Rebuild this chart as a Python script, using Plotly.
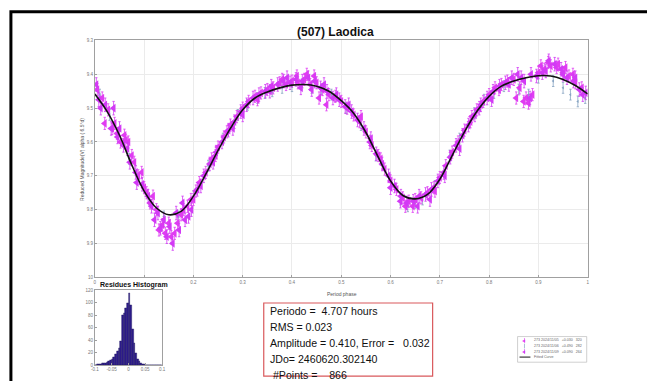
import plotly.graph_objects as go

W, H = 647, 381


def px(x):
    return x / W


def py(y):
    return 1 - y / H


# ---------------- data ----------------
TITLE = "(507) Laodica"

# fitted Fourier curve, reduced magnitude against rotational phase
FIT_PHASE = [0.000, 0.025, 0.050, 0.075, 0.100, 0.125, 0.150, 0.175, 0.200, 0.225,
             0.250, 0.275, 0.300, 0.325, 0.350, 0.375, 0.400, 0.425, 0.450, 0.475,
             0.500, 0.525, 0.550, 0.575, 0.600, 0.625, 0.650, 0.675, 0.700, 0.725,
             0.750, 0.775, 0.800, 0.825, 0.850, 0.875, 0.900, 0.925, 0.950, 0.975, 1.000]
FIT_MAG = [9.458, 9.510, 9.580, 9.668, 9.745, 9.795, 9.815, 9.805, 9.760, 9.695,
           9.625, 9.560, 9.505, 9.470, 9.452, 9.440, 9.432, 9.430, 9.435, 9.450,
           9.478, 9.515, 9.572, 9.645, 9.715, 9.758, 9.768, 9.755, 9.710, 9.640,
           9.570, 9.510, 9.465, 9.435, 9.420, 9.410, 9.404, 9.405, 9.415, 9.433, 9.458]

# session 1: 2024/11/05
S1_LABEL = "273 2024/11/05   +0.030   320"
S1_PHASE = [0.005, 0.015, 0.027, 0.040, 0.052, 0.063, 0.075, 0.088, 0.100, 0.112,
            0.125, 0.137, 0.150, 0.162, 0.175, 0.188, 0.200, 0.212, 0.225, 0.237,
            0.250, 0.262, 0.275, 0.288, 0.300, 0.312, 0.325, 0.337, 0.350, 0.362,
            0.375, 0.388, 0.400, 0.412, 0.425, 0.437, 0.450, 0.462, 0.475, 0.488,
            0.500, 0.512, 0.525, 0.537, 0.550, 0.562, 0.575, 0.588, 0.600, 0.612,
            0.625, 0.637, 0.650, 0.662, 0.675, 0.688, 0.700, 0.712, 0.725, 0.737,
            0.750, 0.762, 0.775, 0.788, 0.800, 0.812, 0.825, 0.837, 0.850, 0.862,
            0.875, 0.888, 0.900, 0.912, 0.925, 0.937, 0.950, 0.962, 0.975, 0.988,
            0.020, 0.035, 0.045, 0.060, 0.068, 0.080, 0.095, 0.105, 0.118, 0.130,
            0.143, 0.155, 0.168, 0.180, 0.195, 0.205, 0.245, 0.268, 0.330, 0.380,
            0.410, 0.430, 0.445, 0.455, 0.470, 0.540, 0.580, 0.630, 0.645, 0.690,
            0.765, 0.820, 0.855, 0.870, 0.880, 0.905, 0.920, 0.940, 0.955, 0.970]
S1_MAG = [9.445, 9.470, 9.505, 9.545, 9.600, 9.595, 9.640, 9.700, 9.735, 9.780,
          9.800, 9.845, 9.840, 9.870, 9.815, 9.790, 9.770, 9.720, 9.690, 9.650,
          9.615, 9.585, 9.550, 9.525, 9.500, 9.480, 9.465, 9.455, 9.445, 9.440,
          9.425, 9.430, 9.420, 9.425, 9.415, 9.430, 9.425, 9.445, 9.460, 9.465,
          9.480, 9.500, 9.520, 9.540, 9.570, 9.610, 9.640, 9.680, 9.715, 9.740,
          9.765, 9.775, 9.770, 9.765, 9.750, 9.735, 9.705, 9.670, 9.630, 9.600,
          9.565, 9.540, 9.505, 9.480, 9.460, 9.440, 9.430, 9.420, 9.415, 9.440,
          9.470, 9.460, 9.395, 9.385, 9.375, 9.380, 9.395, 9.405, 9.425, 9.440,
          9.545, 9.560, 9.575, 9.580, 9.600, 9.660, 9.690, 9.750, 9.760, 9.860,
          9.870, 9.880, 9.840, 9.800, 9.770, 9.745, 9.640, 9.570, 9.475, 9.415,
          9.405, 9.400, 9.405, 9.470, 9.490, 9.525, 9.650, 9.790, 9.790, 9.745,
          9.525, 9.445, 9.470, 9.480, 9.485, 9.375, 9.365, 9.370, 9.380, 9.400]
S1_ERR = 0.018

# session 2: 2024/11/06
S2_LABEL = "273 2024/11/06   +0.490   282"
S2_PHASE = [0.010, 0.030, 0.070, 0.110, 0.140, 0.170, 0.200, 0.230, 0.260, 0.290,
            0.310, 0.330, 0.345, 0.360, 0.380, 0.400, 0.420, 0.440, 0.460, 0.480,
            0.510, 0.540, 0.570, 0.600, 0.620, 0.635, 0.650, 0.665, 0.690, 0.720,
            0.740, 0.770, 0.790, 0.810, 0.830, 0.860, 0.880, 0.900, 0.930, 0.950,
            0.965, 0.980, 0.995]
S2_MAG = [9.460, 9.520, 9.650, 9.770, 9.820, 9.820, 9.760, 9.670, 9.590, 9.520,
          9.490, 9.470, 9.455, 9.450, 9.440, 9.435, 9.430, 9.440, 9.445, 9.460,
          9.500, 9.550, 9.640, 9.720, 9.770, 9.790, 9.780, 9.770, 9.730, 9.640,
          9.590, 9.515, 9.475, 9.455, 9.435, 9.445, 9.460, 9.410, 9.420, 9.440,
          9.460, 9.480, 9.470]
S2_ERR = 0.016

# session 3: 2024/11/09
S3_LABEL = "273 2024/11/09   +0.090   264"
S3_PHASE = [0.008, 0.021, 0.033, 0.046, 0.058, 0.071, 0.083, 0.096, 0.108, 0.121,
            0.133, 0.146, 0.158, 0.171, 0.183, 0.196, 0.208, 0.221, 0.233, 0.246,
            0.258, 0.271, 0.283, 0.296, 0.308, 0.321, 0.333, 0.346, 0.358, 0.371,
            0.383, 0.396, 0.408, 0.421, 0.433, 0.446, 0.458, 0.471, 0.483, 0.496,
            0.508, 0.521, 0.533, 0.546, 0.558, 0.571, 0.583, 0.596, 0.608, 0.621,
            0.633, 0.646, 0.658, 0.671, 0.683, 0.696, 0.708, 0.721, 0.733, 0.746,
            0.758, 0.771, 0.783, 0.796, 0.808, 0.821, 0.833, 0.846, 0.858, 0.871,
            0.883, 0.896, 0.908, 0.921, 0.933, 0.946, 0.958, 0.971, 0.983, 0.996,
            0.003, 0.012, 0.038, 0.050, 0.066, 0.085, 0.115, 0.128, 0.140, 0.152,
            0.165, 0.178, 0.190, 0.215, 0.240, 0.280, 0.300, 0.355, 0.390, 0.418,
            0.440, 0.465, 0.490, 0.515, 0.560, 0.600, 0.620, 0.655, 0.680, 0.710,
            0.740, 0.780, 0.805, 0.840, 0.865, 0.885, 0.915, 0.950, 0.975, 0.990]
S3_MAG = [9.475, 9.490, 9.560, 9.585, 9.610, 9.660, 9.690, 9.725, 9.760, 9.830,
          9.855, 9.880, 9.900, 9.860, 9.830, 9.800, 9.740, 9.700, 9.665, 9.630,
          9.600, 9.565, 9.540, 9.510, 9.490, 9.470, 9.460, 9.450, 9.435, 9.430,
          9.420, 9.425, 9.415, 9.420, 9.410, 9.420, 9.440, 9.450, 9.470, 9.475,
          9.495, 9.510, 9.535, 9.560, 9.600, 9.635, 9.665, 9.700, 9.730, 9.760,
          9.780, 9.775, 9.760, 9.755, 9.740, 9.715, 9.690, 9.645, 9.610, 9.580,
          9.550, 9.520, 9.490, 9.470, 9.450, 9.435, 9.425, 9.410, 9.400, 9.420,
          9.470, 9.405, 9.395, 9.360, 9.370, 9.385, 9.410, 9.420, 9.445, 9.455,
          9.430, 9.500, 9.500, 9.560, 9.620, 9.720, 9.790, 9.810, 9.830, 9.850,
          9.810, 9.780, 9.820, 9.730, 9.660, 9.560, 9.520, 9.450, 9.410, 9.440,
          9.445, 9.430, 9.460, 9.490, 9.590, 9.735, 9.775, 9.790, 9.770, 9.700,
          9.620, 9.500, 9.475, 9.430, 9.410, 9.400, 9.390, 9.400, 9.410, 9.460]
S3_ERR = 0.02

# residuals histogram (bin width 0.005 from -0.1 to 0.1)
RES_BIN_CENTER = [-0.0975, -0.0925, -0.0875, -0.0825, -0.0775, -0.0725, -0.0675, -0.0625,
                  -0.0575, -0.0525, -0.0475, -0.0425, -0.0375, -0.0325, -0.0275, -0.0225,
                  -0.0175, -0.0125, -0.0075, -0.0025, 0.0025, 0.0075, 0.0125, 0.0175,
                  0.0225, 0.0275, 0.0325, 0.0375, 0.0425, 0.0475, 0.0525, 0.0575,
                  0.0625, 0.0675, 0.0725, 0.0775, 0.0825, 0.0875, 0.0925, 0.0975]
RES_COUNT = [0, 1, 2, 2, 3, 3, 4, 5, 6, 8, 10, 13, 17, 22, 28, 38, 80, 84, 92, 100,
             116, 96, 58, 36, 20, 10, 6, 3, 2, 1, 0, 0, 0, 0, 0, 0, 0, 0, 0, 0]

INFO_LINES = ["Periodo =  4.707 hours",
              "RMS = 0.023",
              "Amplitude = 0.410, Error =   0.032",
              "JDo= 2460620.302140",
              " #Points =    866"]

X_TICKS = [0, 0.1, 0.2, 0.3, 0.4, 0.5, 0.6, 0.7, 0.8, 0.9, 1]
X_TEXT = ["0", "", "0.2", "0.3", "0.4", "0.5", "0.6", "0.7", "0.8", "0.9", "1"]
Y_TICKS = [9.3, 9.4, 9.5, 9.6, 9.7, 9.8, 9.9, 10]
HX_TICKS = [-0.1, -0.05, 0, 0.05, 0.1]
HX_TEXT = ["-0.1", "-0.05", "0", "0.05", "0.1"]
HY_TICKS = [0, 20, 40, 60, 80, 100, 120]

# ---------------- styling ----------------
MAGENTA_1 = "#e03cf2"
MAGENTA_2 = "#d23af5"
STEEL = "#86a3c2"
FONT = "Liberation Sans"
TICK_FONT = dict(family=FONT, size=4.5, color="#777777")

fig = go.Figure()

fig.add_trace(go.Scatter(
    x=S2_PHASE, y=S2_MAG, mode="markers",
    marker=dict(symbol="triangle-left", size=3, color=STEEL),
    error_y=dict(type="constant", value=S2_ERR, color=STEEL, thickness=0.8, width=1.2),
    showlegend=False, xaxis="x", yaxis="y"))

fig.add_trace(go.Scatter(
    x=S1_PHASE, y=S1_MAG, mode="markers",
    marker=dict(symbol="triangle-left", size=7.5, color=MAGENTA_1),
    error_y=dict(type="constant", value=S1_ERR, color=MAGENTA_1, thickness=0.8, width=1.2),
    showlegend=False, xaxis="x", yaxis="y"))

fig.add_trace(go.Scatter(
    x=S3_PHASE, y=S3_MAG, mode="markers",
    marker=dict(symbol="triangle-left", size=7.5, color=MAGENTA_2),
    error_y=dict(type="constant", value=S3_ERR, color=MAGENTA_2, thickness=0.8, width=1.2),
    showlegend=False, xaxis="x", yaxis="y"))

fig.add_trace(go.Scatter(
    x=FIT_PHASE, y=FIT_MAG, mode="lines",
    line=dict(color="#111111", width=1.6, shape="spline", smoothing=1.0),
    showlegend=False, xaxis="x", yaxis="y"))

fig.add_trace(go.Bar(
    x=RES_BIN_CENTER, y=RES_COUNT, width=0.005,
    marker=dict(color="#2d1c8c", line=dict(color="#1a0f5c", width=0.4)),
    showlegend=False, xaxis="x2", yaxis="y2"))

axis_common = dict(showline=True, linecolor="#a0a0a0", linewidth=0.8, mirror=True,
                   ticks="inside", ticklen=2, tickcolor="#a0a0a0", tickfont=TICK_FONT,
                   zeroline=False)

fig.update_layout(
    width=W, height=H,
    margin=dict(l=0, r=0, t=0, b=0),
    paper_bgcolor="white", plot_bgcolor="white",
    showlegend=False,
    bargap=0,
    xaxis=dict(domain=[px(92), px(591)], range=[0, 1], tickvals=X_TICKS,
               ticktext=X_TEXT, showgrid=True, gridcolor="#ebebeb", gridwidth=0.8,
               anchor="y", **axis_common),
    yaxis=dict(domain=[py(279), py(39)], range=[10, 9.3], tickvals=Y_TICKS,
               showgrid=True, gridcolor="#ebebeb", gridwidth=0.8, anchor="x",
               **axis_common),
    xaxis2=dict(domain=[px(92), px(160)], range=[-0.1, 0.1], tickvals=HX_TICKS,
                ticktext=HX_TEXT, showgrid=False, anchor="y2", **axis_common),
    yaxis2=dict(domain=[py(368), py(292)], range=[0, 120], tickvals=HY_TICKS,
                showgrid=False, anchor="x2", **axis_common),
)

annotations = [
    dict(text="<b>" + TITLE + "</b>", x=px(336), y=py(30), xref="paper", yref="paper",
         showarrow=False, font=dict(family=FONT, size=12, color="#111111"),
         xanchor="center", yanchor="middle"),
    dict(text="Period phase", x=px(342), y=py(296), xref="paper", yref="paper",
         showarrow=False, font=dict(family=FONT, size=5, color="#555555"),
         xanchor="center", yanchor="middle"),
    dict(text="Reduced Magnitude(V) alpha ( 6.5°d)", x=px(79), y=py(160),
         xref="paper", yref="paper", textangle=-90, showarrow=False,
         font=dict(family=FONT, size=5, color="#555555"),
         xanchor="center", yanchor="middle"),
    dict(text="<b>Residues Histogram</b>", x=px(95), y=py(287), xref="paper",
         yref="paper", showarrow=False,
         font=dict(family=FONT, size=7, color="#111111"),
         xanchor="left", yanchor="middle"),
]

# statistics box
for i, line in enumerate(INFO_LINES):
    annotations.append(dict(
        text=line.replace(" ", "&nbsp;"), x=px(267), y=py(313 + 16.2 * i),
        xref="paper", yref="paper", showarrow=False,
        font=dict(family=FONT, size=10.6, color="#111111"),
        xanchor="left", yanchor="middle"))

# legend rows
legend_rows = [(S1_LABEL, MAGENTA_1, "sym"), (S2_LABEL, STEEL, "bar"),
               (S3_LABEL, MAGENTA_2, "sym"), ("Fitted Curve", "#111111", "line")]
shapes = [
    dict(type="rect", xref="paper", yref="paper", x0=px(7), x1=px(W + 10),
         y0=py(H + 10), y1=py(10), line=dict(color="black", width=3)),
    dict(type="rect", xref="paper", yref="paper", x0=px(263), x1=px(434),
         y0=py(379), y1=py(305), line=dict(color="#d9595c", width=1.2)),
    dict(type="rect", xref="paper", yref="paper", x0=px(520), x1=px(590),
         y0=py(365), y1=py(339), line=dict(color="#b0b0b0", width=0.6),
         fillcolor="white", layer="below"),
]
for i, (label, color, kind) in enumerate(legend_rows):
    yc = 343 + 5.6 * i
    if kind == "line":
        shapes.append(dict(type="line", xref="paper", yref="paper", x0=px(522),
                           x1=px(533), y0=py(yc), y1=py(yc),
                           line=dict(color=color, width=1.0)))
    else:
        shapes.append(dict(type="line", xref="paper", yref="paper", x0=px(527),
                           x1=px(527), y0=py(yc - 2.4), y1=py(yc + 2.4),
                           line=dict(color=color, width=0.7)))
        if kind == "sym":
            annotations.append(dict(text="◀", x=px(527), y=py(yc), xref="paper",
                                    yref="paper", showarrow=False,
                                    font=dict(size=4, color=color),
                                    xanchor="center", yanchor="middle"))
    annotations.append(dict(text=label.replace(" ", "&nbsp;"), x=px(535), y=py(yc),
                            xref="paper", yref="paper", showarrow=False,
                            font=dict(family=FONT, size=3.6, color="#666666"),
                            xanchor="left", yanchor="middle"))

fig.update_layout(annotations=annotations, shapes=shapes)

fig.write_html("out.html")
